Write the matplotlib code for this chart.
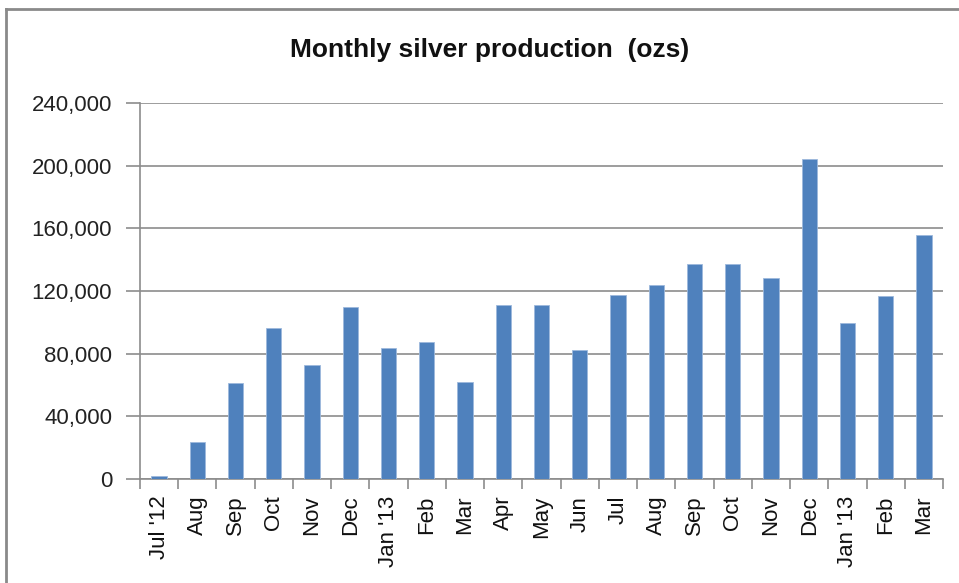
import matplotlib
matplotlib.use("Agg")
import matplotlib.pyplot as plt
from matplotlib.lines import Line2D
from matplotlib.ticker import FuncFormatter, FixedLocator
import numpy as np

months = ["Jul '12", "Aug", "Sep", "Oct", "Nov", "Dec", "Jan '13", "Feb", "Mar",
          "Apr", "May", "Jun", "Jul", "Aug", "Sep", "Oct", "Nov", "Dec",
          "Jan '13", "Feb", "Mar"]
production = [2000, 23500, 61000, 96500, 72500, 109500, 83500, 87500, 62000,
              111000, 111000, 82500, 117500, 124000, 137500, 137500, 128000,
              204000, 99500, 116500, 155500]
yticks = [0, 40000, 80000, 120000, 160000, 200000, 240000]

plt.rcParams['font.family'] = ['Liberation Sans', 'DejaVu Sans']

fig = plt.figure(figsize=(9.59, 5.83), dpi=100)
ax = fig.add_axes([140/959, 1-479/583, (943-140)/959, (479-103)/583])

x = np.arange(len(months))
ax.bar(x, production, width=0.4, color='#4F81BD', edgecolor='#9DB9DC', linewidth=0.6, zorder=3)

ax.set_xlim(-0.5, len(months)-0.5)
ax.set_ylim(0, 240000)
ax.set_yticks(yticks)
ax.yaxis.set_major_formatter(FuncFormatter(lambda v, p: f"{int(v):,}"))
ax.grid(axis='y', color='#8C8C8C', linewidth=1.2, zorder=0)

ax.xaxis.set_major_locator(FixedLocator(np.arange(-0.5, len(months), 1.0)))
ax.xaxis.set_major_formatter(FuncFormatter(lambda v, p: ""))
ax.xaxis.set_minor_locator(FixedLocator(x))
ax.set_xticklabels(months, minor=True, rotation=90, fontsize=16)
ax.tick_params(axis='x', which='minor', length=0, pad=12)
ax.tick_params(axis='x', which='major', length=7, color='#8C8C8C', width=1.2)
ax.tick_params(axis='y', length=10, color='#8C8C8C', width=1.2, labelsize=16, pad=10, labelcolor='#222222')
for lab in ax.get_xticklabels(minor=True):
    lab.set_color('#111111')

for s in ['top', 'right']:
    ax.spines[s].set_visible(False)
for s in ['left', 'bottom']:
    ax.spines[s].set_color('#8C8C8C')
    ax.spines[s].set_linewidth(1.2)

fig.text(490/959, 1-50/583, "Monthly silver production  (ozs)", ha='center', va='center',
         fontsize=19, fontweight='bold', color='#111111')

# outer frame (top and left edges)
fig.add_artist(Line2D([6/959, 1], [1-9/583, 1-9/583], transform=fig.transFigure, color='#8A8A8A', linewidth=2))
fig.add_artist(Line2D([6/959, 6/959], [0, 1-9/583], transform=fig.transFigure, color='#8A8A8A', linewidth=2))

fig.savefig("out.png", dpi=100)
